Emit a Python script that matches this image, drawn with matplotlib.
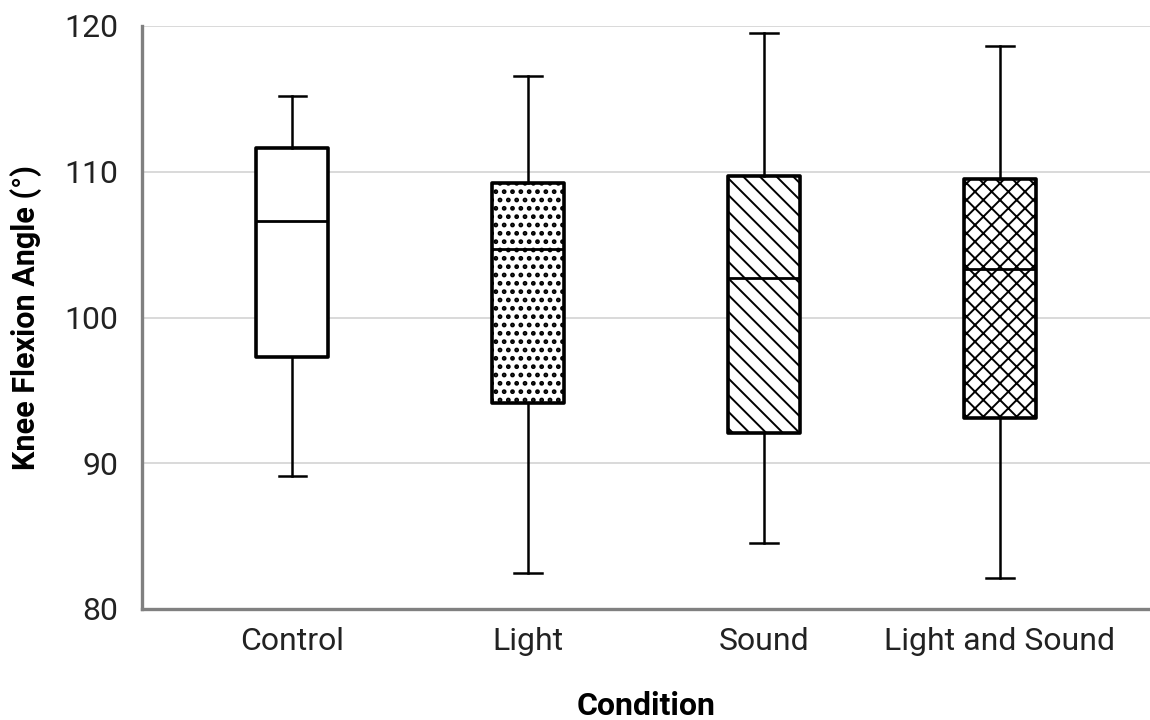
import matplotlib
matplotlib.use("Agg")
import matplotlib.pyplot as plt

# Box plot summary values
conditions = ["Control", "Light", "Sound", "Light and Sound"]
whisker_low = [89.1, 82.5, 84.5, 82.1]
quart1 = [97.3, 94.1, 92.1, 93.1]
medians = [106.6, 104.7, 102.7, 103.3]
quart3 = [111.6, 109.2, 109.7, 109.5]
whisker_high = [115.2, 116.6, 119.5, 118.6]
hatches = ["", "..", "\\\\", "xx"]


def main():
    plt.rcParams["font.family"] = ["Roboto", "DejaVu Sans"]
    plt.rcParams["hatch.linewidth"] = 1.4
    plt.rcParams["hatch.color"] = "black"

    fig = plt.figure(figsize=(11.5, 7.2), dpi=100)
    ax = fig.add_axes([142 / 1150, 111 / 720, 1008 / 1150, 583 / 720])

    stats = []
    for i, name in enumerate(conditions):
        stats.append(dict(label=name, whislo=whisker_low[i], q1=quart1[i],
                          med=medians[i], q3=quart3[i], whishi=whisker_high[i],
                          fliers=[]))

    bp = ax.bxp(stats, positions=range(len(conditions)), widths=0.305,
                patch_artist=True, showfliers=False, capwidths=0.115,
                boxprops=dict(facecolor="white", edgecolor="black",
                              linewidth=2.6, joinstyle="round"),
                whiskerprops=dict(color="black", linewidth=1.8),
                capprops=dict(color="black", linewidth=1.8),
                medianprops=dict(color="black", linewidth=2.0))

    for box, h in zip(bp["boxes"], hatches):
        box.set_hatch(h)
    # bigger dots for the Light box
    try:
        bp["boxes"][1].set_hatch_linewidth(2.2)
    except AttributeError:
        pass

    ax.set_xlim(-0.636, 3.636)
    ax.set_ylim(80, 120)
    ax.set_yticks([80, 90, 100, 110, 120])
    ax.yaxis.grid(True, color="#d3d3d3", linewidth=1.2)
    ax.set_axisbelow(True)

    for s in ["top", "right"]:
        ax.spines[s].set_visible(False)
    for s in ["left", "bottom"]:
        ax.spines[s].set_color("#808080")
        ax.spines[s].set_linewidth(2.4)

    ax.tick_params(axis="both", length=0, labelsize=23, colors="#222222")
    ax.tick_params(axis="y", pad=17)
    ax.tick_params(axis="x", pad=13)
    ax.set_xticklabels(conditions)

    ax.set_xlabel("Condition", fontsize=23, fontweight="bold", labelpad=25)
    ax.set_ylabel("Knee Flexion Angle (°)", fontsize=22, fontweight="bold",
                  labelpad=16)

    fig.savefig("out.png", dpi=100)


if __name__ == "__main__":
    main()
